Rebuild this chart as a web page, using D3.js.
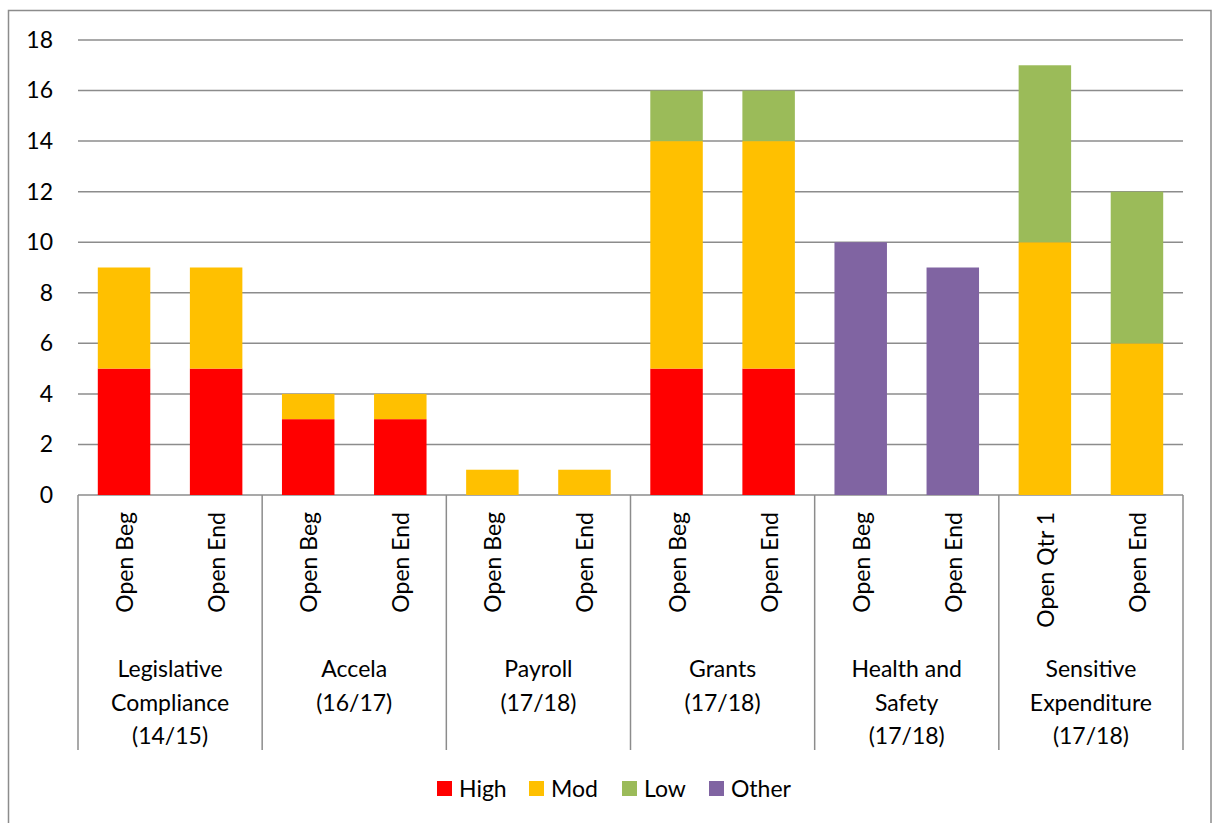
<!DOCTYPE html>
<html>
<head>
<meta charset="utf-8">
<script src="https://cdn.jsdelivr.net/npm/d3@7"></script>
<style>
  html, body { margin: 0; padding: 0; background: #fff; }
  svg { display: block; font-family: Lato, "Open Sans", sans-serif; }
</style>
</head>
<body>
<svg id="chart" width="1216" height="823"></svg>
<script>
// Audit groups and the two snapshots shown for each
const groups = [
  ["Legislative", "Compliance", "(14/15)"],
  ["Accela", "(16/17)"],
  ["Payroll", "(17/18)"],
  ["Grants", "(17/18)"],
  ["Health and", "Safety", "(17/18)"],
  ["Sensitive", "Expenditure", "(17/18)"]
];
const snapshots = [
  ["Open Beg", "Open End"],
  ["Open Beg", "Open End"],
  ["Open Beg", "Open End"],
  ["Open Beg", "Open End"],
  ["Open Beg", "Open End"],
  ["Open Qtr 1", "Open End"]
];

// Open findings by rating, one value per bar (12 bars, group order)
const high  = [5, 5, 3, 3, 0, 0, 5, 5, 0, 0, 0, 0];
const mod   = [4, 4, 1, 1, 1, 1, 9, 9, 0, 0, 10, 6];
const low   = [0, 0, 0, 0, 0, 0, 2, 2, 0, 0, 7, 6];
const other = [0, 0, 0, 0, 0, 0, 0, 0, 10, 9, 0, 0];

const seriesNames = ["High", "Mod", "Low", "Other"];
const seriesColors = ["#FF0000", "#FFC000", "#9BBB59", "#8064A2"];
const yTicks = [0, 2, 4, 6, 8, 10, 12, 14, 16, 18];

const svg = d3.select("#chart");
const plotLeft = 78, plotRight = 1183, plotTop = 40, plotBottom = 495;
const sepBottom = 750;
const fontSize = 23;

// chart frame
svg.append("rect")
  .attr("x", 8.5).attr("y", 10.5)
  .attr("width", 1202.5).attr("height", 830)
  .attr("fill", "none").attr("stroke", "#8c8c8c").attr("stroke-width", 1.5);

// one row per bar
const rows = [];
snapshots.forEach((snaps, g) => snaps.forEach((s, j) => rows.push({ key: g + "-" + j, group: g, label: s })));
const values = [high, mod, low, other];
const table = rows.map((r, i) => {
  const o = { key: r.key };
  seriesNames.forEach((n, k) => o[n] = values[k][i]);
  return o;
});

const x = d3.scaleBand()
  .domain(rows.map(r => r.key))
  .range([plotLeft, plotRight])
  .paddingInner(0.43)
  .paddingOuter(0.215);

const y = d3.scaleLinear().domain([0, 18]).range([plotBottom, plotTop]);

// gridlines
svg.append("g")
  .selectAll("line")
  .data(yTicks)
  .join("line")
  .attr("x1", plotLeft).attr("x2", plotRight)
  .attr("y1", d => y(d)).attr("y2", d => y(d))
  .attr("stroke", "#8c8c8c").attr("stroke-width", 1.5);

// y axis labels
const yAxis = d3.axisLeft(y).tickValues(yTicks).tickSize(0).tickPadding(0);
const yg = svg.append("g").attr("transform", `translate(${53},0)`).call(yAxis);
yg.select(".domain").remove();
yg.selectAll("text")
  .attr("font-size", fontSize).attr("fill", "#000")
  .attr("font-family", "Lato, 'Open Sans', sans-serif");

// stacked bars
const stack = d3.stack().keys(seriesNames);
const layers = stack(table);
svg.append("g")
  .selectAll("g")
  .data(layers)
  .join("g")
  .attr("fill", (d, i) => seriesColors[i])
  .selectAll("rect")
  .data(d => d.filter(p => p[1] - p[0] > 0))
  .join("rect")
  .attr("x", d => x(d.data.key))
  .attr("width", x.bandwidth())
  .attr("y", d => y(d[1]))
  .attr("height", d => y(d[0]) - y(d[1]));

// category axis: group separators
const groupEdges = d3.range(groups.length + 1).map(g => plotLeft + (plotRight - plotLeft) * g / groups.length);
svg.append("g")
  .selectAll("line")
  .data(groupEdges)
  .join("line")
  .attr("x1", d => d).attr("x2", d => d)
  .attr("y1", plotBottom).attr("y2", sepBottom)
  .attr("stroke", "#8c8c8c").attr("stroke-width", 1.5);

// rotated snapshot labels
svg.append("g")
  .selectAll("text")
  .data(rows)
  .join("text")
  .attr("transform", d => `translate(${x(d.key) + x.bandwidth() / 2 + 9},${512}) rotate(-90)`)
  .attr("text-anchor", "end")
  .attr("font-size", fontSize)
  .attr("fill", "#000")
  .text(d => d.label);

// group labels
const gl = svg.append("g")
  .selectAll("text")
  .data(groups)
  .join("text")
  .attr("text-anchor", "middle")
  .attr("font-size", fontSize)
  .attr("fill", "#000")
  .attr("x", (d, i) => (groupEdges[i] + groupEdges[i + 1]) / 2);
gl.selectAll("tspan")
  .data(d => d)
  .join("tspan")
  .attr("x", function () { return d3.select(this.parentNode).attr("x"); })
  .attr("y", (d, i) => 677 + i * 33.5)
  .text(d => d);

// legend
const legendX = [437, 529, 622, 709];
const lg = svg.append("g")
  .selectAll("g")
  .data(seriesNames)
  .join("g")
  .attr("transform", (d, i) => `translate(${legendX[i]},781)`);
lg.append("rect")
  .attr("width", 15).attr("height", 15)
  .attr("fill", (d, i) => seriesColors[i]);
lg.append("text")
  .attr("x", 22).attr("y", 16)
  .attr("font-size", fontSize)
  .attr("fill", "#000")
  .text(d => d);
</script>
</body>
</html>
